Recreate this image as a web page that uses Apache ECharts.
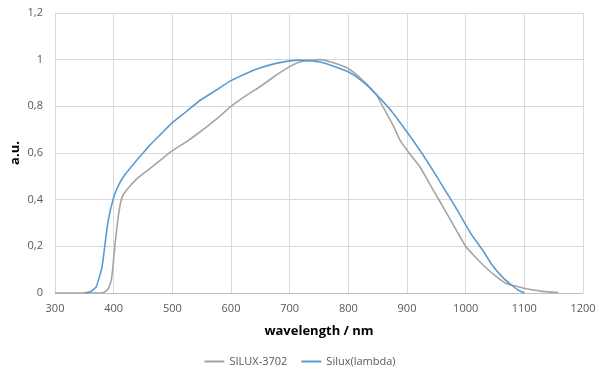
<!DOCTYPE html>
<html><head><meta charset="utf-8">
<script src="https://cdn.jsdelivr.net/npm/echarts@6/dist/echarts.min.js"></script>
<style>html,body{margin:0;padding:0;background:#fff}#c{width:600px;height:373px}</style>
</head><body><div id="c"></div>
<script>
const seriesNames = ['SILUX-3702', 'Silux(lambda)'];
const xTicks = [300, 400, 500, 600, 700, 800, 900, 1000, 1100, 1200];
const yTicks = [0, 0.2, 0.4, 0.6, 0.8, 1, 1.2];
const grayX = [300,350,380,388,392,396,399,402,405,408,412,416,425,440,460,480,500,525,547,575,600,625,650,675,700,717,735,752,770,785,800,825,848,865,878,888,900,922,945,968,985,1000,1018,1036,1055,1070,1085,1100,1127,1158];
const grayY = [0,0,0,0.01,0.025,0.055,0.12,0.2,0.27,0.33,0.39,0.42,0.45,0.49,0.53,0.57,0.61,0.65,0.69,0.745,0.8,0.845,0.885,0.93,0.97,0.99,0.997,1.0,0.99,0.978,0.962,0.91,0.848,0.77,0.71,0.655,0.612,0.54,0.44,0.34,0.265,0.2,0.15,0.105,0.065,0.04,0.03,0.02,0.008,0.002];
const blueX = [350,360,370,380,390,400,410,420,433,450,462,480,500,525,547,575,600,625,650,675,700,717,735,752,775,800,825,848,875,900,925,953,965,980,996,1010,1030,1045,1064,1080,1090,1100];
const blueY = [0,0.005,0.025,0.11,0.3,0.41,0.47,0.51,0.55,0.6,0.635,0.68,0.73,0.78,0.825,0.87,0.91,0.94,0.965,0.983,0.995,0.998,0.996,0.99,0.972,0.948,0.905,0.85,0.775,0.69,0.6,0.49,0.44,0.38,0.31,0.25,0.18,0.12,0.065,0.03,0.012,0];

const zip = (xs, ys) => xs.map((x, i) => [x, ys[i]]);
const fmt = v => (Math.abs(v - Math.round(v)) < 1e-9 ? String(Math.round(v)) : v.toFixed(1).replace('.', ','));
const font = "'Open Sans', 'Noto Sans', sans-serif";

const chart = echarts.init(document.getElementById('c'), null, {renderer: 'canvas'});
chart.setOption({
  animation: false,
  backgroundColor: '#fff',
  grid: {left: 55, right: 17, top: 13, bottom: 80, containLabel: false, outerBoundsMode: 'none'},
  legend: {
    bottom: 1, left: 'center', itemWidth: 20, itemHeight: 2, itemGap: 14,
    icon: 'rect',
    textStyle: {color: '#595959', fontSize: 11, fontFamily: font},
    data: seriesNames
  },
  xAxis: {
    type: 'value', min: xTicks[0], max: xTicks[xTicks.length - 1], interval: 100,
    name: 'wavelength / nm', nameLocation: 'middle', nameGap: 32,
    nameTextStyle: {fontWeight: 'bold', fontSize: 13, color: '#000', fontFamily: font},
    axisLine: {show: true, lineStyle: {color: '#bfbfbf'}},
    axisTick: {show: false},
    axisLabel: {color: '#595959', fontSize: 11, fontFamily: font, margin: 10, formatter: v => String(v)},
    splitLine: {show: true, lineStyle: {color: '#d9d9d9'}}
  },
  yAxis: {
    type: 'value', min: yTicks[0], max: yTicks[yTicks.length - 1], interval: 0.2,
    name: 'a.u.', nameLocation: 'middle', nameGap: 33, nameRotate: 90, nameMoveOverlap: false,
    nameTextStyle: {fontWeight: 'bold', fontSize: 13, color: '#000', fontFamily: font},
    axisLine: {show: false}, axisTick: {show: false},
    axisLabel: {color: '#595959', fontSize: 11, fontFamily: font, margin: 12, formatter: fmt},
    splitLine: {show: true, lineStyle: {color: '#d9d9d9'}}
  },
  series: [
    {name: seriesNames[0], type: 'line', data: zip(grayX, grayY), showSymbol: false, smooth: 0.15,
     lineStyle: {color: '#a5a5a5', width: 1.6}, itemStyle: {color: '#a5a5a5'}},
    {name: seriesNames[1], type: 'line', data: zip(blueX, blueY), showSymbol: false, smooth: 0.15,
     lineStyle: {color: '#5b9bd5', width: 1.6}, itemStyle: {color: '#5b9bd5'}}
  ]
});
</script></body></html>
